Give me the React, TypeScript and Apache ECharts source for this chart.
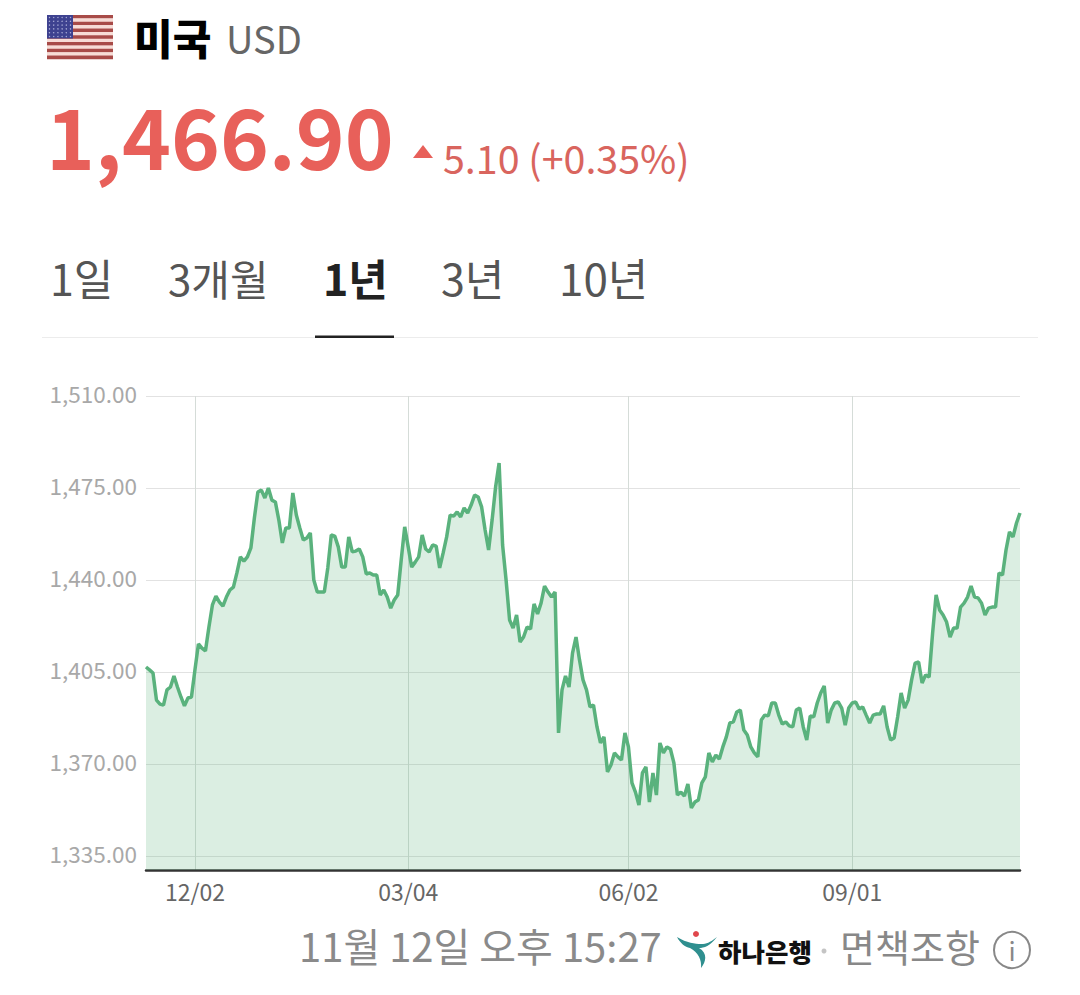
import React, { useEffect, useRef } from "react";
import * as echarts from "echarts";

const rates = [
  1406.9, 1405.8, 1404.6, 1394.3, 1392.8, 1392.4, 1398.2, 1399.3, 1403.5, 1399.3,
  1395.5, 1392.1, 1395.1, 1395.5, 1405.8, 1415.7, 1414.1, 1413, 1422.1, 1430.5,
  1433.9, 1431.6, 1430.1, 1433.5, 1436.2, 1437.3, 1442.7, 1448.8, 1447.2, 1448.8,
  1452.2, 1463.6, 1473.5, 1474.2, 1471.2, 1475, 1470.4, 1469.7, 1462.8, 1454.1,
  1459.8, 1459.8, 1473.1, 1464.7, 1459.8, 1455.2, 1456, 1457.9, 1440, 1435.4,
  1435.4, 1435.4, 1444.6, 1457.1, 1456.7, 1452.6, 1444.9, 1444.9, 1456.4, 1450.7,
  1451, 1451.8, 1448.8, 1442.3, 1442.7, 1441.9, 1441.9, 1434.3, 1436.2, 1433.5,
  1429.3, 1432.4, 1434.3, 1447.6, 1460.2, 1452.6, 1444.9, 1446.8, 1448.8, 1457.1,
  1451.8, 1450.7, 1453.3, 1452.9, 1444.6, 1450.3, 1456.4, 1464.7, 1464.3, 1465.9,
  1464, 1467.4, 1465.5, 1468.5, 1472.3, 1471.6, 1467.8, 1459, 1451.4, 1462.8,
  1475.4, 1484.5, 1453.3, 1440, 1424.8, 1421.7, 1426.7, 1416.4, 1418.3, 1422.1,
  1421.4, 1430.9, 1427.1, 1431.2, 1437.7, 1435.4, 1433.5, 1435.4, 1381.8, 1398.2,
  1403.5, 1399.3, 1412.2, 1418.3, 1409.6, 1402, 1398.2, 1391.7, 1392.4, 1384.1,
  1378, 1380.3, 1367, 1369.6, 1374.2, 1372.7, 1371.5, 1381.8, 1376.5, 1362.8,
  1359.3, 1354.4, 1366.6, 1368.9, 1355.5, 1366.6, 1358.2, 1378, 1374.2, 1376.5,
  1375.7, 1370.4, 1358.2, 1359.3, 1357.8, 1362.4, 1353.3, 1355.5, 1356.3, 1362.8,
  1365.1, 1374.2, 1370.8, 1373.4, 1371.9, 1376.5, 1380.3, 1385.6, 1386, 1389.8,
  1390.5, 1382.9, 1381, 1376.5, 1374.2, 1372.7, 1386.7, 1388.6, 1388.3, 1393.2,
  1393.2, 1388.6, 1385.2, 1386, 1384.5, 1384.1, 1390.5, 1391.3, 1384.1, 1379.1,
  1388.3, 1387.9, 1393.2, 1397, 1399.7, 1385.6, 1390.5, 1393.2, 1393.6, 1391.3,
  1384.8, 1391.3, 1393.2, 1393.6, 1390.9, 1391.7, 1388.6, 1385.6, 1388.6, 1389,
  1389, 1392.1, 1384.1, 1379.1, 1379.9, 1387.9, 1397, 1391.3, 1394.3, 1402,
  1408.4, 1408.8, 1400.8, 1403.9, 1403.1, 1419.8, 1434.3, 1428.6, 1426.7, 1424,
  1418.3, 1421.7, 1421.7, 1429.7, 1431.2, 1433.5, 1437.7, 1433.5, 1433.2, 1431.2,
  1426.7, 1429.3, 1429.7, 1429.7, 1442.7, 1441.9, 1451.4, 1458.3, 1456.4, 1461.7,
  1465.5,
];
const tickIndexes = [14, 75, 138, 202];
const tickLabels = ["12/02", "03/04", "06/02", "09/01"];
const yTicks = [1335, 1370, 1405, 1440, 1475, 1510];
const tabs = ["1일", "3개월", "1년", "3년", "10년"];
const tabX = [50, 168, 323, 441, 559];
const tabSize = [43, 42, 43, 43, 44];

const KR = '"Noto Sans CJK KR", "Noto Sans", sans-serif';
const categories = rates.map((_, i) => {
  const k = tickIndexes.indexOf(i);
  return k >= 0 ? tickLabels[k] : String(i);
});
const isTick = (i: number) => tickIndexes.includes(i);

echarts.graphic.registerShape(
  "hanaSwoosh",
  echarts.graphic.extendPath(
    "M0 6 C10 12 18 13 24 13 C30 13 32 12 40 6 C33 15 27 17 22 17 C31 22 29 31 24 37 C25 29 21 21 13 17 C8 16 3 12 0 6 Z",
    {}
  )
);

function label(text: string, x: number, y: number, size: number, fill: string, weight: any = 400) {
  return {
    type: "text",
    x,
    y,
    z: 10,
    style: { text, fill, fontSize: size, fontWeight: weight, fontFamily: KR, textVerticalAlign: "middle" },
  };
}

function flag() {
  const kids: any[] = [];
  const h = 44 / 13;
  for (let i = 0; i < 13; i++) {
    kids.push({
      type: "rect",
      shape: { x: 47, y: 15 + i * h, width: 66, height: h + 0.2 },
      style: { fill: i % 2 === 0 ? "#a84b48" : "#f7dcd6" },
      z: 10,
    });
  }
  kids.push({ type: "rect", shape: { x: 47, y: 15, width: 26, height: 23.5 }, style: { fill: "#3e4290" }, z: 11 });
  for (let r = 0; r < 6; r++) {
    for (let c = 0; c < 6; c++) {
      kids.push({
        type: "circle",
        shape: { cx: 49.5 + c * 4.2, cy: 17.5 + r * 3.8, r: 0.7 },
        style: { fill: "#a9abd6" },
        z: 12,
      });
    }
  }
  return { type: "group", children: kids };
}

export default function App() {
  const ref = useRef<HTMLDivElement>(null);
  useEffect(() => {
    const chart = echarts.init(ref.current!, undefined, { renderer: "svg" });
    chart.setOption({
      animation: false,
      backgroundColor: "#fff",
      grid: { left: 146, right: 60, top: 396, bottom: 125, containLabel: false },
      xAxis: {
        type: "category",
        data: categories,
        boundaryGap: false,
        axisLine: { show: true, lineStyle: { color: "#333", width: 2.5 } },
        axisTick: { show: false },
        axisLabel: {
          interval: (i: number) => isTick(i),
          color: "#666",
          fontSize: 23,
          fontFamily: KR,
          margin: 9,
        },
        splitLine: { show: true, interval: (i: number) => isTick(i), lineStyle: { color: "#d5dcd8", width: 1 } },
      },
      yAxis: {
        type: "value",
        min: 1329.67,
        max: 1510,
        axisLine: { show: false },
        axisTick: { show: false, customValues: yTicks },
        axisLabel: {
          customValues: yTicks,
          color: "#a8a8a8",
          fontSize: 22.5,
          fontFamily: KR,
          margin: 9,
          verticalAlign: "bottom",
          lineHeight: 6,
          formatter: (v: number) =>
            v.toLocaleString("en-US", { minimumFractionDigits: 2, maximumFractionDigits: 2 }),
        },
        splitLine: { show: true, lineStyle: { color: "#e2e2e2", width: 1 } },
      },
      series: [
        {
          type: "line",
          data: rates,
          showSymbol: false,
          symbol: "none",
          lineStyle: { color: "#5ab27d", width: 3.5 },
          areaStyle: { color: "rgba(90,178,125,0.22)", opacity: 1 },
          silent: true,
        },
      ],
      graphic: [
        flag(),
        label("미국", 134, 36, 42, "#000", 900),
        label("USD", 226, 37, 38, "#666"),
        label("1,466.90", 46, 134, 83, "#e8605a", 700),
        { type: "polygon", z: 10, shape: { points: [[413, 158], [433, 158], [423, 145]] }, style: { fill: "#e8605a" } },
        label("5.10 (+0.35%)", 443, 156, 39.4, "#d9655e"),
        ...tabs.map((t, i) => label(t, tabX[i], 277, tabSize[i], i === 2 ? "#222" : "#555", i === 2 ? 700 : 400)),
        { type: "rect", z: 10, shape: { x: 42, y: 337, width: 996, height: 1 }, style: { fill: "#ececec" } },
        { type: "rect", z: 11, shape: { x: 315, y: 335.5, width: 79, height: 2.5 }, style: { fill: "#222" } },
        label("11월 12일 오후 15:27", 299, 945, 40, "#8a8a8a"),
        { type: "hanaSwoosh", x: 677, y: 931, z: 10, style: { fill: "#2f8f8f" } },
        { type: "circle", z: 10, shape: { cx: 696, cy: 934, r: 3 }, style: { fill: "#e0474c" } },
        label("하나은행", 718, 950, 25.5, "#111", 900),
        { type: "circle", z: 10, shape: { cx: 824, cy: 951, r: 2.5 }, style: { fill: "#c4c4c4" } },
        label("면책조항", 840, 945, 38, "#888"),
        { type: "circle", z: 10, shape: { cx: 1012, cy: 950, r: 18 }, style: { fill: "none", stroke: "#888", lineWidth: 2 } },
        { type: "text", z: 10, x: 1012, y: 949, style: { text: "i", fill: "#888", fontSize: 26, fontFamily: KR, textAlign: "center", textVerticalAlign: "middle" } },
      ],
    });
    return () => chart.dispose();
  }, []);
  return <div ref={ref} style={{ position: "absolute", left: 0, top: 0, width: 1080, height: 995 }} />;
}
